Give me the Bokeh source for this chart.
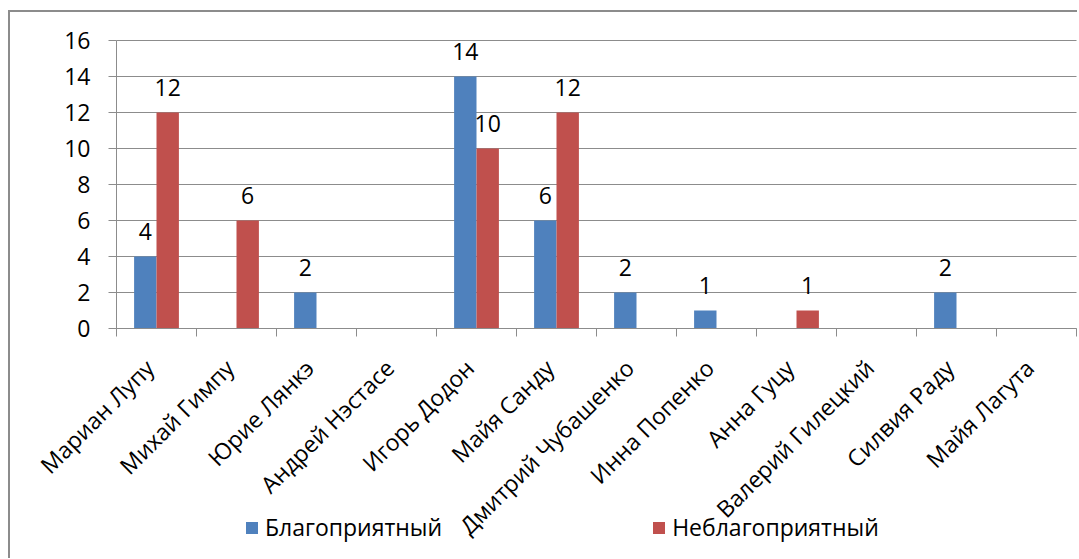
import math
from bokeh.plotting import figure
from bokeh.models import Range1d, FixedTicker, LinearAxis, Legend, LegendItem, ColumnDataSource
from bokeh.core.properties import value
from bokeh.embed import file_html
from bokeh.resources import INLINE

names = ["Мариан Лупу", "Михай Гимпу", "Юрие Лянкэ", "Андрей Нэстасе", "Игорь Додон",
         "Майя Санду", "Дмитрий Чубашенко", "Инна Попенко", "Анна Гуцу",
         "Валерий Гилецкий", "Силвия Раду", "Майя Лагута"]
favorable = [4, 0, 2, 0, 14, 6, 2, 1, 0, 0, 2, 0]
unfavorable = [12, 6, 0, 0, 10, 12, 0, 0, 1, 0, 0, 0]
series_names = ["Благоприятный", "Неблагоприятный"]
y_ticks = [0, 2, 4, 6, 8, 10, 12, 14, 16]
y_tick_labels = ["0", "2", "4", "6", "8", "10", "12", "14", "16"]

BLUE = "#4F81BD"
RED = "#C0504D"
GRID = "#8C8C8C"
FONT = "Open Sans"
FS_NUM = "23px"
FS_TXT = "23px"

n = len(names)
bw = 0.28
centers = [i + 0.5 for i in range(n)]
boundaries = list(range(n + 1))

# layout geometry (pixels): one frame covering the whole canvas
CAT_PX = 80.0          # pixels per category
UNIT_PX = 18.0         # pixels per value unit
FRAME_W, FRAME_H = 1047, 536
ORIGIN_X, ORIGIN_Y = 86, 316   # position of (0, 0) inside the frame, from its top-left
x_start = -ORIGIN_X / CAT_PX
x_end = (FRAME_W - ORIGIN_X) / CAT_PX
y_end = ORIGIN_Y / UNIT_PX
y_start = -(FRAME_H - ORIGIN_Y) / UNIT_PX

p = figure(frame_width=FRAME_W, frame_height=FRAME_H,
           x_range=Range1d(x_start, x_end), y_range=Range1d(y_start, y_end),
           output_backend="svg", toolbar_location=None,
           min_border_left=20, min_border_right=0, min_border_top=0, min_border_bottom=10,
           x_axis_type=None, y_axis_type=None)
p.outline_line_color = None
p.background_fill_color = "white"
p.border_fill_color = "white"
p.xgrid.visible = False
p.ygrid.visible = False
p.styles = {"border-top": "2px solid #8C8C8C", "border-left": "2px solid #8C8C8C",
            "margin-top": "10px", "margin-left": "8px"}

# value axis (line + outside ticks) fixed at x = 0; its labels are drawn separately
yax = LinearAxis(ticker=FixedTicker(ticks=y_ticks), bounds=(0, 16), fixed_location=0)
yax.axis_line_color = GRID
yax.major_tick_line_color = GRID
yax.major_tick_out = 8
yax.major_tick_in = 0
yax.minor_tick_line_color = None
yax.major_label_text_font_size = "0px"
yax.major_label_text_color = None
yax.major_label_standoff = 0
p.add_layout(yax, "left")

# category axis (line + boundary ticks) fixed at y = 0
xax = LinearAxis(ticker=FixedTicker(ticks=boundaries), bounds=(0, n), fixed_location=0)
xax.axis_line_color = GRID
xax.major_tick_line_color = GRID
xax.major_tick_out = 8
xax.major_tick_in = 0
xax.minor_tick_line_color = None
xax.major_label_text_font_size = "0px"
xax.major_label_text_color = None
xax.major_label_standoff = 0
p.add_layout(xax, "below")

# horizontal gridlines across the category span
p.segment(x0=[0] * len(y_ticks), x1=[n] * len(y_ticks), y0=y_ticks, y1=y_ticks,
          line_color=GRID, line_width=1)

# value tick labels
p.text(x=[0] * len(y_ticks), y=y_ticks, text=y_tick_labels,
       text_font=value(FONT), text_font_size=FS_NUM, text_align="right",
       text_baseline="middle", x_offset=-26, text_color="#000000")

src_b = ColumnDataSource(dict(x=[c - bw / 2 for c in centers], top=favorable))
src_r = ColumnDataSource(dict(x=[c + bw / 2 for c in centers], top=unfavorable))
rb = p.vbar(x="x", top="top", width=bw, source=src_b, fill_color=BLUE, line_color=None)
rr = p.vbar(x="x", top="top", width=bw, source=src_r, fill_color=RED, line_color=None)

# data labels for non-zero values
lb = [(x, t) for x, t in zip(src_b.data["x"], favorable) if t > 0]
lr = [(x, t) for x, t in zip(src_r.data["x"], unfavorable) if t > 0]
for pts in (lb, lr):
    p.text(x=[a for a, _ in pts], y=[b for _, b in pts], text=[str(b) for _, b in pts],
           text_font=value(FONT), text_font_size=FS_NUM, text_align="center",
           text_baseline="alphabetic", y_offset=-25, text_color="#000000")

# category labels, rotated 45 degrees below the 0 line
p.text(x=centers, y=[0] * n, text=names, angle=math.pi / 4,
       text_font=value(FONT), text_font_size=FS_TXT, text_align="right",
       text_baseline="middle", x_offset=-7, y_offset=35, text_color="#000000")

legend = Legend(items=[LegendItem(label=series_names[0], renderers=[rb]),
                       LegendItem(label=series_names[1], renderers=[rr])],
                orientation="horizontal", location=(214, 5),
                spacing=209, padding=0, margin=0, border_line_color=None,
                background_fill_alpha=0, glyph_width=15, glyph_height=15,
                label_standoff=6, label_text_font=FONT, label_text_font_size=FS_TXT,
                label_text_color="#000000", label_height=15)
p.add_layout(legend, "center")

open("out.html", "w").write(file_html(p, INLINE))
